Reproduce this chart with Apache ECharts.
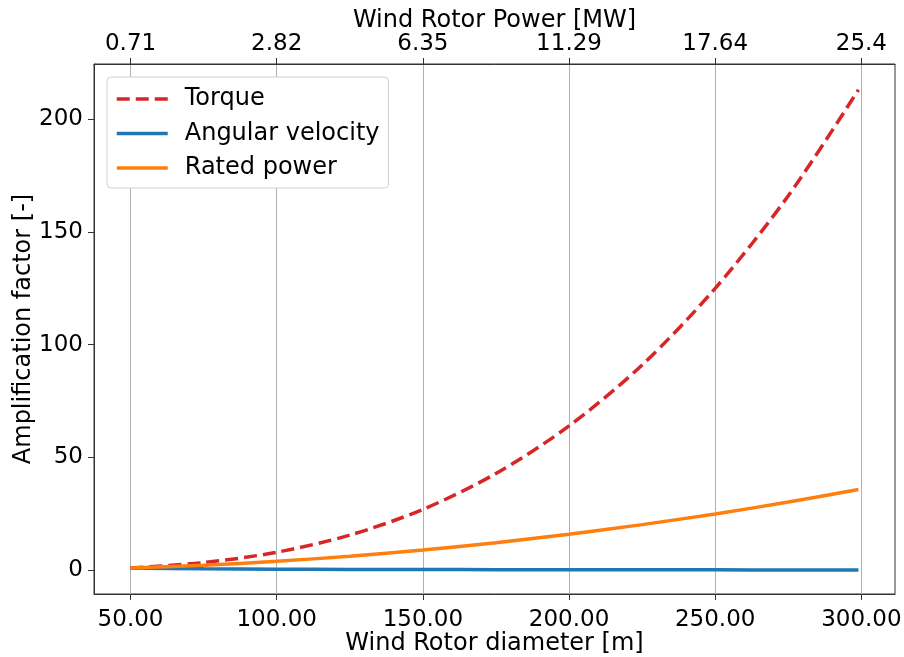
<!DOCTYPE html>
<html>
<head>
<meta charset="utf-8">
<script src="https://cdn.jsdelivr.net/npm/echarts@6/dist/echarts.min.js"></script>
<style>
  html, body { margin: 0; padding: 0; background: #fff; }
  #chart { width: 904px; height: 657px; }
</style>
</head>
<body>
<div id="chart"></div>
<script>
// rotor diameter [m]
const diameter = [50, 75, 100, 125, 150, 175, 200, 225, 250, 275, 299];
// amplification factors
const torque = [1, 3.4, 8, 15.6, 27, 42.9, 64, 91, 125, 166, 213];
const angularVelocity = [1, 0.67, 0.5, 0.4, 0.33, 0.29, 0.25, 0.22, 0.2, 0.18, 0.17];
const ratedPower = [1, 2.25, 4, 6.25, 9, 12.25, 16, 20.25, 25, 30.25, 35.8];

// tick positions and the labels of both x axes
const diameterTicks = [50, 100, 150, 200, 250, 300];
const powerLabels = ['0.71', '2.82', '6.35', '11.29', '17.64', '25.4'];
const yTicks = [0, 50, 100, 150, 200];

const font = 'DejaVu Sans';
const pair = (ys) => diameter.map((d, i) => [d, ys[i]]);
const axisColor = '#333';

const chart = echarts.init(document.getElementById('chart'));
chart.setOption({
  animation: false,
  textStyle: { fontFamily: font },
  grid: {
    left: 94, right: 9, top: 64, bottom: 63,
    outerBoundsMode: 'none',
    show: true, borderColor: axisColor, borderWidth: 1
  },
  legend: {
    orient: 'vertical',
    left: 107, top: 77,
    padding: [8, 9, 6, 8],
    itemWidth: 51, itemHeight: 14, itemGap: 6.5,
    itemStyle: { color: 'transparent', borderWidth: 0 },
    lineStyle: { width: 3.5 },
    backgroundColor: '#fff',
    borderColor: '#d0d0d0', borderWidth: 1, borderRadius: 4,
    textStyle: { fontFamily: font, fontSize: 24, color: '#000', lineHeight: 28, padding: [0, 0, 0, 12] },
    data: ['Torque', 'Angular velocity', 'Rated power']
  },
  xAxis: [
    {
      type: 'value', position: 'bottom', min: 37.5, max: 311.5,
      name: 'Wind Rotor diameter [m]', nameLocation: 'middle', nameGap: 38, nameMoveOverlap: false,
      nameTextStyle: { fontFamily: font, fontSize: 24, color: '#000' },
      axisLine: { show: true, onZero: false, lineStyle: { color: axisColor } },
      axisTick: { show: true, length: 6, customValues: diameterTicks, lineStyle: { color: axisColor } },
      axisLabel: {
        customValues: diameterTicks, margin: 15,
        fontFamily: font, fontSize: 23, color: '#000',
        formatter: v => v.toFixed(2)
      },
      splitLine: { show: true, lineStyle: { color: '#b0b0b0', width: 1 } }
    },
    {
      type: 'value', position: 'top', min: 37.5, max: 311.5,
      name: 'Wind Rotor Power [MW]', nameLocation: 'middle', nameGap: 31, nameMoveOverlap: false,
      nameTextStyle: { fontFamily: font, fontSize: 24, color: '#000' },
      axisLine: { show: true, onZero: false, lineStyle: { color: axisColor } },
      axisTick: { show: true, length: 6, customValues: diameterTicks, lineStyle: { color: axisColor } },
      axisLabel: {
        customValues: diameterTicks, margin: 8,
        fontFamily: font, fontSize: 23, color: '#000',
        formatter: v => powerLabels[diameterTicks.indexOf(Math.round(v))] || ''
      },
      splitLine: { show: false }
    }
  ],
  yAxis: {
    type: 'value', min: -10.5, max: 224.4,
    name: 'Amplification factor [-]', nameLocation: 'middle', nameGap: 58, nameMoveOverlap: false,
    nameTextStyle: { fontFamily: font, fontSize: 24, color: '#000' },
    axisLine: { show: true, onZero: false, lineStyle: { color: axisColor } },
    axisTick: { show: true, length: 6, customValues: yTicks, lineStyle: { color: axisColor } },
    axisLabel: { customValues: yTicks, margin: 11, fontFamily: font, fontSize: 23, color: '#000' },
    splitLine: { show: false }
  },
  series: [
    {
      name: 'Torque', type: 'line', data: pair(torque), smooth: 0.3,
      showSymbol: false, symbol: 'none', color: '#d62728',
      lineStyle: { width: 3.5, type: [13, 6], color: '#d62728' }, z: 3
    },
    {
      name: 'Angular velocity', type: 'line', data: pair(angularVelocity), smooth: 0.2,
      showSymbol: false, symbol: 'none', color: '#1f77b4',
      lineStyle: { width: 3.5, color: '#1f77b4' }, z: 2
    },
    {
      name: 'Rated power', type: 'line', data: pair(ratedPower), smooth: 0.3,
      showSymbol: false, symbol: 'none', color: '#ff7f0e',
      lineStyle: { width: 3.5, color: '#ff7f0e' }, z: 4
    }
  ]
});
</script>
</body>
</html>
